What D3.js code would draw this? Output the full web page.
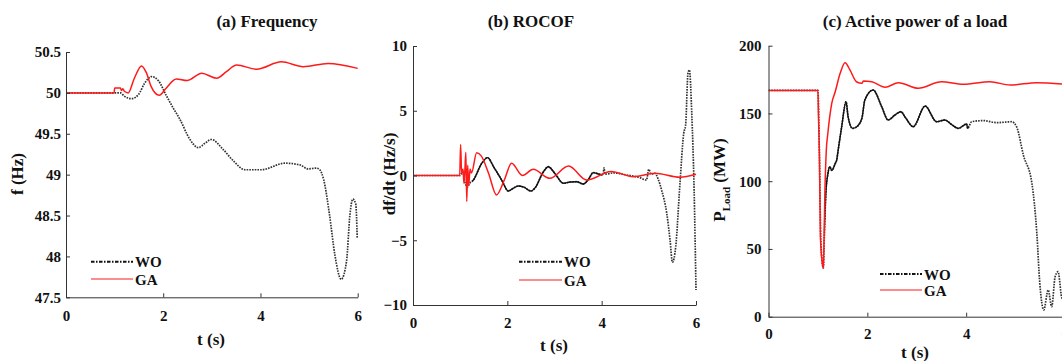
<!DOCTYPE html>
<html>
<head>
<meta charset="utf-8">
<script src="https://cdn.jsdelivr.net/npm/d3@7"></script>
<style>
  html, body { margin: 0; padding: 0; background: #fff; }
  svg { display: block; }
  text { font-family: "Liberation Serif", "Times New Roman", serif; font-weight: bold; fill: #111; }
</style>
</head>
<body>
<svg id="chart" width="1062" height="361"></svg>
<script>
// ---- (a) Frequency (Hz) ----
const freqTimeGA = [0, 0.99, 1.0, 1.12, 1.14, 1.17, 1.2, 1.28, 1.4, 1.555, 1.65, 1.75, 1.92, 2.05, 2.27, 2.49, 2.79, 3.1, 3.3, 3.51, 3.92, 4.43, 4.88, 5.39, 6.0];
const freqGA     = [50, 50, 50.06, 50.06, 50.03, 50.05, 50.02, 50.0, 50.17, 50.33, 50.25, 50.08, 49.97, 50.05, 50.17, 50.15, 50.24, 50.18, 50.26, 50.34, 50.29, 50.38, 50.32, 50.36, 50.30];
const freqTimeWO = [0, 1.0, 1.12, 1.2, 1.35, 1.49, 1.62, 1.76, 1.9, 2.07, 2.2, 2.34, 2.55, 2.72, 2.85, 2.99, 3.23, 3.44, 3.68, 4.02, 4.5, 4.81, 4.98, 5.15, 5.22, 5.3, 5.42, 5.53, 5.66, 5.77, 5.84, 5.9, 5.96, 5.99];
const freqWO     = [50, 50, 50.0, 49.96, 49.93, 49.98, 50.12, 50.2, 50.15, 49.96, 49.82, 49.68, 49.43, 49.33, 49.38, 49.43, 49.31, 49.17, 49.06, 49.06, 49.14, 49.12, 49.07, 49.08, 49.06, 48.94, 48.51, 48.02, 47.72, 47.94, 48.51, 48.70, 48.64, 48.23];
const freqTicks  = [47.5, 48, 48.5, 49, 49.5, 50, 50.5];

// ---- (b) ROCOF (Hz/s) ----
const rocofTimeGA = [0, 0.99, 1.01, 1.03, 1.06, 1.08, 1.1, 1.12, 1.14, 1.16, 1.18, 1.21, 1.24, 1.35, 1.45, 1.6, 1.77, 1.93, 2.09, 2.32, 2.55, 2.9, 3.3, 3.68, 4.2, 4.67, 5.13, 5.66, 6.0];
const rocofGA     = [0, 0, 2.4, 0.2, 0.5, -0.6, 0.4, 1.8, -2.0, 0.8, -0.8, 0.5, 0.2, 1.75, 1.5, 0.2, -1.5, -0.4, 0.94, 0.0, 0.48, -0.22, 0.73, -0.35, 0.3, -0.09, 0.17, -0.14, 0.09];
const rocofTimeWO = [0, 1.0, 1.05, 1.1, 1.15, 1.2, 1.28, 1.45, 1.58, 1.72, 1.88, 2.02, 2.12, 2.23, 2.35, 2.5, 2.6, 2.75, 2.87, 3.0, 3.19, 3.33, 3.47, 3.61, 3.72, 3.82, 3.95, 4.03, 4.05, 4.07, 4.25, 4.53, 4.8, 4.95, 5.0, 5.05, 5.13, 5.2, 5.27, 5.38, 5.45, 5.5, 5.57, 5.66, 5.74, 5.78, 5.83, 5.86, 5.91, 5.96, 6.0];
const rocofWO     = [0, 0, 0.3, -0.5, -0.9, -0.6, -0.35, 0.9, 1.38, 0.6, -0.35, -1.2, -1.0, -0.81, -0.9, -1.2, -0.9, 0.2, 0.68, 0.2, -0.6, -0.5, -0.48, -0.66, -0.3, 0.22, 0.1, 0.04, 0.6, 0.1, 0.2, 0.04, -0.15, -0.35, 0.48, 0.1, 0.17, -0.3, -1.12, -2.92, -4.98, -6.7, -5.5, -0.6, 3.26, 3.9, 7.9, 8.15, 4.8, -1.12, -8.85];
const rocofTicks  = [-10, -5, 0, 5, 10];

// ---- (c) Active power of a load (MW) ----
const loadTimeGA = [0, 1.0, 1.01, 1.03, 1.05, 1.08, 1.11, 1.12, 1.14, 1.17, 1.2, 1.28, 1.35, 1.45, 1.55, 1.65, 1.78, 1.89, 1.92, 2.09, 2.36, 2.63, 3.03, 3.5, 3.94, 4.48, 4.89, 5.43, 6.0];
const loadGA     = [167, 167, 150, 120, 60, 42, 35.7, 49, 90, 123, 135, 157.5, 166, 179.6, 187.5, 182, 173.4, 172.2, 174, 173.4, 169.3, 172.7, 168.6, 173.4, 171.5, 173.4, 171, 172.7, 171.5];
const loadTimeWO = [0, 1.0, 1.03, 1.06, 1.11, 1.13, 1.16, 1.2, 1.24, 1.28, 1.35, 1.38, 1.41, 1.48, 1.57, 1.61, 1.7, 1.78, 1.89, 1.95, 2.12, 2.29, 2.42, 2.56, 2.68, 2.77, 2.93, 3.17, 3.4, 3.57, 3.7, 3.84, 4.01, 4.03, 4.11, 4.35, 4.62, 4.92, 5.02, 5.16, 5.33, 5.43, 5.49, 5.57, 5.66, 5.73, 5.8, 5.86, 5.93, 6.0];
const loadWO     = [167, 167, 120, 55, 36, 60, 91, 105, 110.7, 108, 113, 115.6, 123, 140, 158.7, 147.6, 139, 140, 146.4, 160, 167.3, 155, 145.2, 148.9, 151.3, 147, 140.2, 155.5, 143.9, 145.2, 142, 139, 142.2, 139, 143.9, 144.7, 143.2, 143.9, 140.2, 119, 98.5, 61.5, 24.6, 5, 19.7, 7.4, 29.5, 33.2, 14.8, 10];
const loadTicks  = [0, 50, 100, 150, 200];

const timeTicks = [0, 2, 4, 6];
const seriesNames = ["WO", "GA"];

const svg = d3.select("#chart");
const RED = "#ff1a1a";

function zip(ts, vs) { return ts.map((t, i) => ({ t, v: vs[i] })); }

function drawPanel(p) {
  const g = svg.append("g");
  const x = d3.scaleLinear().domain([0, 6]).range([p.x0, p.x1]);
  const y = d3.scaleLinear().domain(p.yDomain).range([p.yBottom, p.yTop]);

  const clipId = "clip-" + p.id;
  svg.append("clipPath").attr("id", clipId)
    .append("rect").attr("x", p.x0).attr("y", p.yTop - 2)
    .attr("width", p.x1 - p.x0 + 2).attr("height", p.yBottom - p.yTop + 2);

  // dense-sample stretch of the WO trace renders as a solid stroke
  const denseId = "dense-" + p.id;
  if (p.dense) {
    svg.append("clipPath").attr("id", denseId)
      .append("rect").attr("x", x(p.dense[0])).attr("y", p.yTop - 2)
      .attr("width", x(p.dense[1]) - x(p.dense[0])).attr("height", p.yBottom - p.yTop + 2);
  }

  const line = d3.line().x(d => x(d.t)).y(d => y(d.v)).curve(d3.curveMonotoneX);
  const plot = g.append("g").attr("clip-path", `url(#${clipId})`);

  const wo = zip(p.tWO, p.vWO);
  plot.append("path").datum(wo).attr("d", line)
    .attr("fill", "none").attr("stroke", "#333").attr("stroke-width", 1.7)
    .attr("stroke-dasharray", "1.6,1.1");
  if (p.dense) {
    plot.append("g").attr("clip-path", `url(#${denseId})`)
      .append("path").datum(wo).attr("d", line)
      .attr("fill", "none").attr("stroke", "#111").attr("stroke-width", 1.4);
  }
  plot.append("path").datum(zip(p.tGA, p.vGA)).attr("d", line)
    .attr("fill", "none").attr("stroke", RED).attr("stroke-width", 1.5);

  // axes (inward ticks, left and bottom only)
  const fmt = d3.format("~g");
  const xAxis = d3.axisBottom(x).tickValues(timeTicks).tickSizeInner(-4).tickSizeOuter(0).tickPadding(p.xPad).tickFormat(fmt);
  const yAxis = d3.axisLeft(y).tickValues(p.yTicks).tickSizeInner(-4).tickSizeOuter(0).tickPadding(p.yPad).tickFormat(fmt);
  const gx = g.append("g").attr("transform", `translate(0,${p.yBottom})`).call(xAxis);
  const gy = g.append("g").attr("transform", `translate(${p.x0},0)`).call(yAxis);
  [gx, gy].forEach(a => {
    a.select(".domain").attr("stroke", "#333").attr("stroke-width", 1);
    a.selectAll(".tick line").attr("stroke", "#333");
    a.selectAll(".tick text").style("font-family", "'Liberation Serif', 'Times New Roman', serif")
      .style("font-weight", "bold").style("font-size", "15px").attr("fill", "#111");
  });
  gx.selectAll(".tick text").attr("dy", "0.71em");

  // title
  g.append("text").attr("x", p.titleX).attr("y", 27).attr("text-anchor", "middle")
    .style("font-size", "17px").text(p.title);

  // x label
  g.append("text").attr("x", p.xLabelX).attr("y", p.xLabelY).attr("text-anchor", "middle")
    .style("font-size", "17px").text("t (s)");

  // y label
  const yl = g.append("text").attr("text-anchor", "middle").style("font-size", "17px")
    .attr("transform", `translate(${p.yLabelX},${p.yLabelY}) rotate(-90)`);
  p.yLabel(yl);

  // legend
  const lg = g.append("g");
  seriesNames.forEach((name, i) => {
    const ly = p.legend.y[i];
    const ln = lg.append("line").attr("x1", p.legend.x0).attr("x2", p.legend.x1)
      .attr("y1", ly).attr("y2", ly);
    if (name === "WO") {
      ln.attr("stroke", "#111").attr("stroke-width", 2).attr("stroke-dasharray", "3.5,1.5,1.5,1.5");
    } else {
      ln.attr("stroke", RED).attr("stroke-width", 1.2);
    }
    lg.append("text").attr("x", p.legend.x1 + 2).attr("y", ly + 5.5)
      .style("font-size", "15px").text(name);
  });
}

drawPanel({
  id: "a", title: "(a) Frequency",
  x0: 66, x1: 357.7, yTop: 52, yBottom: 297.3, yDomain: [47.5, 50.5], yTicks: freqTicks,
  tGA: freqTimeGA, vGA: freqGA, tWO: freqTimeWO, vWO: freqWO, dense: null,
  xPad: 13, yPad: 5,
  titleX: 267, xLabelX: 211, xLabelY: 345,
  yLabelX: 23, yLabelY: 174,
  yLabel: t => t.text("f (Hz)"),
  legend: { x0: 91, x1: 133, y: [261.7, 279] }
});

drawPanel({
  id: "b", title: "(b) ROCOF",
  x0: 413, x1: 696, yTop: 46, yBottom: 305, yDomain: [-10, 10], yTicks: rocofTicks,
  tGA: rocofTimeGA, vGA: rocofGA, tWO: rocofTimeWO, vWO: rocofWO, dense: [1.25, 4.0],
  xPad: 12, yPad: 6,
  titleX: 531, xLabelX: 554, xLabelY: 351,
  yLabelX: 395, yLabelY: 174,
  yLabel: t => t.text("df/dt (Hz/s)"),
  legend: { x0: 519, x1: 562, y: [261.7, 280] }
});

drawPanel({
  id: "c", title: "(c) Active power of a load",
  x0: 768.5, x1: 1065, yTop: 45.7, yBottom: 316.7, yDomain: [0, 200], yTicks: loadTicks,
  tGA: loadTimeGA, vGA: loadGA, tWO: loadTimeWO, vWO: loadWO, dense: [1.15, 4.05],
  xPad: 12, yPad: 7,
  titleX: 915, xLabelX: 915, xLabelY: 358,
  yLabelX: 725, yLabelY: 180,
  yLabel: t => {
    t.append("tspan").text("P");
    t.append("tspan").attr("dy", 5).style("font-size", "11px").text("Load");
    t.append("tspan").attr("dy", -5).text(" (MW)");
  },
  legend: { x0: 880, x1: 922, y: [274, 290] }
});
</script>
</body>
</html>
